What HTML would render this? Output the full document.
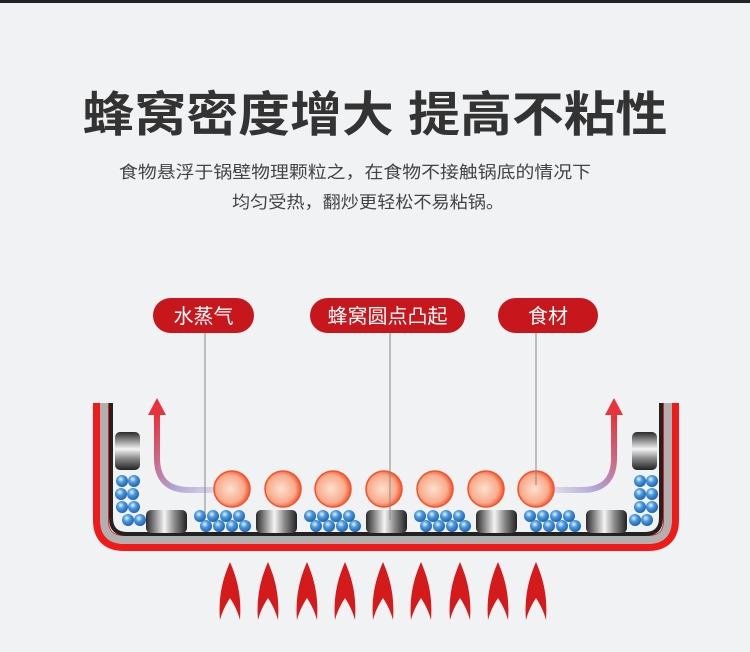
<!DOCTYPE html>
<html><head><meta charset="utf-8"><style>
html,body{margin:0;padding:0;background:#f1f2f4;}
svg{display:block}
text{font-family:"Liberation Sans","Noto Sans CJK SC",sans-serif;}
</style></head><body>
<svg width="750" height="652" viewBox="0 0 750 652" xmlns="http://www.w3.org/2000/svg">
<defs>
<linearGradient id="cyl" x1="0" x2="1" y1="0" y2="0">
<stop offset="0" stop-color="#2a2a2a"/><stop offset="0.45" stop-color="#f4f4f4"/><stop offset="0.7" stop-color="#888"/><stop offset="1" stop-color="#222"/></linearGradient>
<linearGradient id="cylv" x1="0" x2="0" y1="0" y2="1">
<stop offset="0" stop-color="#2a2a2a"/><stop offset="0.45" stop-color="#f4f4f4"/><stop offset="0.7" stop-color="#888"/><stop offset="1" stop-color="#222"/></linearGradient>
<radialGradient id="ball" cx="0.45" cy="0.5" r="0.55">
<stop offset="0" stop-color="#fde0cc"/><stop offset="0.7" stop-color="#f9a988"/><stop offset="1" stop-color="#f44a20"/></radialGradient>
<radialGradient id="bb" cx="0.4" cy="0.35" r="0.7">
<stop offset="0" stop-color="#e8f4ff"/><stop offset="0.4" stop-color="#4a9ae0"/><stop offset="1" stop-color="#1a5aa8"/></radialGradient>
<linearGradient id="arL" x1="0" x2="1" y1="0" y2="1"><stop offset="0" stop-color="#e8323c"/><stop offset="0.6" stop-color="#b0a0d0"/><stop offset="1" stop-color="#e0e0f0"/></linearGradient>
<linearGradient id="arR" x1="1" x2="0" y1="0" y2="1"><stop offset="0" stop-color="#e8323c"/><stop offset="0.6" stop-color="#b0a0d0"/><stop offset="1" stop-color="#e0e0f0"/></linearGradient>
<path id="flame" d="M0,0 C6,14 12,32 10,58 C8,50 4,42 0,36 C-4,42 -8,50 -10,58 C-12,32 -6,14 0,0Z"/>
<g id="bl"><circle r="6" fill="url(#bb)"/></g>
</defs>
<rect x="0" y="0" width="750" height="3" fill="#222"/>
<text x="375" y="131" font-size="48" font-weight="bold" fill="#333" text-anchor="middle" textLength="585" lengthAdjust="spacingAndGlyphs">蜂窝密度增大 提高不粘性</text>
<text x="355" y="178" font-size="17" fill="#444" text-anchor="middle" textLength="472" lengthAdjust="spacingAndGlyphs">食物悬浮于锅壁物理颗粒之，在食物不接触锅底的情况下</text>
<text x="368" y="208" font-size="17" fill="#444" text-anchor="middle" textLength="272" lengthAdjust="spacingAndGlyphs">均匀受热，翻炒更轻松不易粘锅。</text>

<rect x="153" y="298" width="101" height="35" rx="17.5" fill="#c8161d"/>
<text x="203.5" y="323" font-size="20" fill="#fff" text-anchor="middle">水蒸气</text>
<rect x="310" y="298" width="155" height="35" rx="17.5" fill="#c8161d"/>
<text x="387.5" y="323" font-size="20" fill="#fff" text-anchor="middle">蜂窝圆点凸起</text>
<rect x="498" y="298" width="100" height="35" rx="17.5" fill="#c8161d"/>
<text x="548" y="323" font-size="20" fill="#fff" text-anchor="middle">食材</text>

<!-- pot -->
<path d="M101,403 V520 Q101,543 124,543 H648 Q671,543 671,520 V403" fill="none" stroke="#f01a1a" stroke-width="16"/>
<path d="M104,403 V520 Q104,540 124,540 H648 Q668,540 668,520 V403" fill="none" stroke="#b0b0b0" stroke-width="8"/>
<path d="M111,403 V518 Q111,534 127,534 H645 Q661,534 661,518 V403" fill="none" stroke="#222" stroke-width="4"/>

<!-- handles -->
<rect x="115" y="432" width="25" height="38" rx="5" fill="url(#cylv)"/>
<rect x="632" y="432" width="25" height="38" rx="5" fill="url(#cylv)"/>
<!-- bumps -->
<g fill="url(#cyl)">
<rect x="146" y="510" width="41" height="23" rx="5"/>
<rect x="256" y="510" width="41" height="23" rx="5"/>
<rect x="366" y="510" width="41" height="23" rx="5"/>
<rect x="476" y="510" width="41" height="23" rx="5"/>
<rect x="586" y="510" width="41" height="23" rx="5"/>
</g>
<!-- blue balls -->
<g>
<use href="#bl" x="122" y="481"/><use href="#bl" x="134" y="481"/>
<use href="#bl" x="121" y="494"/><use href="#bl" x="133" y="494"/>
<use href="#bl" x="122" y="507"/><use href="#bl" x="134" y="507"/>
<use href="#bl" x="128" y="520"/><use href="#bl" x="140" y="520"/>
<use href="#bl" x="640" y="481"/><use href="#bl" x="652" y="481"/>
<use href="#bl" x="640" y="494"/><use href="#bl" x="652" y="494"/>
<use href="#bl" x="640" y="507"/><use href="#bl" x="652" y="507"/>
<use href="#bl" x="635" y="520"/><use href="#bl" x="647" y="520"/>
</g>
<g id="cl">
<use href="#bl" x="200" y="516"/><use href="#bl" x="213" y="516"/><use href="#bl" x="226" y="516"/><use href="#bl" x="239" y="516"/>
<use href="#bl" x="206" y="526"/><use href="#bl" x="219" y="526"/><use href="#bl" x="232" y="526"/><use href="#bl" x="245" y="526"/>
</g>
<use href="#cl" x="110"/><use href="#cl" x="220"/><use href="#cl" x="330"/>

<!-- arrows -->
<path d="M157,415 V458 Q157,490 189,490 H222" fill="none" stroke="url(#arL)" stroke-width="6"/>
<polygon points="157,398 148,415 166,415" fill="#e8323c"/>
<path d="M614,415 V458 Q614,490 582,490 H550" fill="none" stroke="url(#arR)" stroke-width="6"/>
<polygon points="614,398 605,415 623,415" fill="#e8323c"/>

<!-- food balls -->
<g stroke="#f54a20" stroke-width="1.5" fill="url(#ball)" opacity="0.95">
<circle cx="232" cy="489" r="18"/><circle cx="283" cy="489" r="18"/><circle cx="333" cy="489" r="18"/>
<circle cx="384" cy="489" r="18"/><circle cx="435" cy="489" r="18"/><circle cx="486" cy="489" r="18"/><circle cx="536" cy="489" r="18"/>
</g>
<!-- leader lines -->
<g stroke="#888" stroke-width="1">
<line x1="205" y1="333" x2="205" y2="515"/>
<line x1="390" y1="333" x2="390" y2="520"/>
<line x1="536" y1="333" x2="536" y2="485"/>
</g>
<!-- flames -->
<g fill="#d41a1a">
<use href="#flame" x="230" y="562"/><use href="#flame" x="268" y="562"/><use href="#flame" x="307" y="562"/>
<use href="#flame" x="345" y="562"/><use href="#flame" x="383" y="562"/><use href="#flame" x="421" y="562"/>
<use href="#flame" x="460" y="562"/><use href="#flame" x="498" y="562"/><use href="#flame" x="536" y="562"/>
</g>
</svg>
</body></html>
